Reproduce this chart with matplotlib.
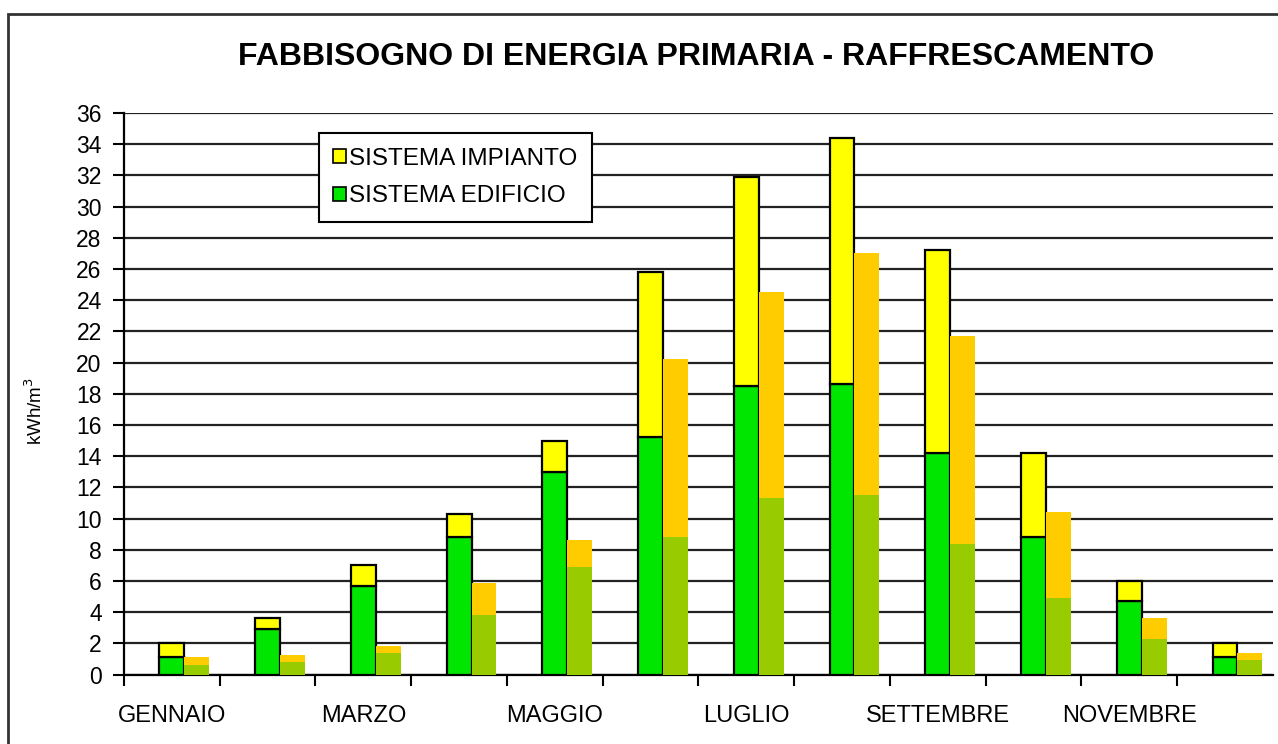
import matplotlib.pyplot as plt
from matplotlib.patches import Rectangle
import numpy as np

plt.rcParams['font.family'] = ['Liberation Sans', 'DejaVu Sans']

mesi = ['GENNAIO', 'FEBBRAIO', 'MARZO', 'APRILE', 'MAGGIO', 'GIUGNO',
        'LUGLIO', 'AGOSTO', 'SETTEMBRE', 'OTTOBRE', 'NOVEMBRE', 'DICEMBRE']

# first column: edificio + impianto [kWh/m3]
edificio_1 = [1.1, 2.9, 5.7, 8.8, 13.0, 15.2, 18.5, 18.6, 14.2, 8.8, 4.7, 1.1]
impianto_1 = [0.9, 0.7, 1.3, 1.5, 2.0, 10.6, 13.4, 15.8, 13.0, 5.4, 1.3, 0.9]

# second column: edificio + impianto [kWh/m3]
edificio_2 = [0.6, 0.8, 1.35, 3.8, 6.9, 8.8, 11.3, 11.5, 8.4, 4.9, 2.25, 0.95]
impianto_2 = [0.5, 0.45, 0.45, 2.05, 1.7, 11.4, 13.2, 15.5, 13.3, 5.5, 1.4, 0.4]


def main():
    fig = plt.figure(figsize=(12.78, 7.44), dpi=100)
    ax = fig.add_axes([0.097, 0.0934, 0.899, 0.7546])

    x = np.arange(len(mesi))
    w = 0.26

    ax.bar(x, edificio_1, width=w, color='#00E600', edgecolor='black',
           linewidth=1.6, label='SISTEMA EDIFICIO', zorder=3)
    ax.bar(x, impianto_1, width=w, bottom=edificio_1, color='#FFFF00',
           edgecolor='black', linewidth=1.6, label='SISTEMA IMPIANTO', zorder=3)
    ax.bar(x + w, edificio_2, width=w, color='#99CC00', linewidth=0, zorder=3)
    ax.bar(x + w, impianto_2, width=w, bottom=edificio_2, color='#FFCC00',
           linewidth=0, zorder=3)

    # Axes and grid
    ax.set_xlim(-0.5, len(mesi) - 0.5)
    ax.set_ylim(0, 36)
    ax.set_yticks(np.arange(0, 37, 2))
    ax.yaxis.grid(True, color='#222222', linewidth=1.6, zorder=0)
    ax.set_axisbelow(True)
    ax.set_xticks(x - 0.5, minor=False)
    ax.set_xticklabels([])
    ax.set_xticks(x[::2], minor=True)
    ax.set_xticklabels(mesi[::2], minor=True)
    ax.tick_params(axis='x', which='major', direction='out', length=8, width=1.5)
    ax.tick_params(axis='x', which='minor', length=0, pad=22, labelsize=17)
    ax.tick_params(axis='y', direction='out', length=8, width=1.5, labelsize=16.5, pad=8)
    for side in ('top', 'right'):
        ax.spines[side].set_visible(False)
    for side in ('left', 'bottom'):
        ax.spines[side].set_linewidth(1.6)

    ax.set_ylabel('kWh/m$^3$', fontsize=13.5)
    ax.yaxis.set_label_coords(-0.068, 0.469)

    handles, labels = ax.get_legend_handles_labels()
    leg = ax.legend(handles[::-1], labels[::-1], loc='upper left',
                    bbox_to_anchor=(0.159, 0.986), fontsize=17.5,
                    frameon=True, fancybox=False, framealpha=1,
                    edgecolor='black', handlelength=0.5, handleheight=0.55,
                    handletextpad=0.15, labelspacing=0.65, borderpad=0.6)
    leg.get_frame().set_linewidth(1.5)
    for h in leg.legend_handles:
        h.set_linewidth(1.2)

    fig.text(0.545, 0.923, 'FABBISOGNO DI ENERGIA PRIMARIA - RAFFRESCAMENTO',
             ha='center', va='center', fontsize=23, fontweight='bold')

    # Outer frame of the chart
    fig.patches.append(Rectangle((8 / 1278, -0.01), 1.1, 0.997 - 12 / 744 + 0.01,
                                 transform=fig.transFigure, fill=False,
                                 edgecolor='#333333', linewidth=2))

    fig.savefig('out.png', dpi=100)


if __name__ == '__main__':
    main()
